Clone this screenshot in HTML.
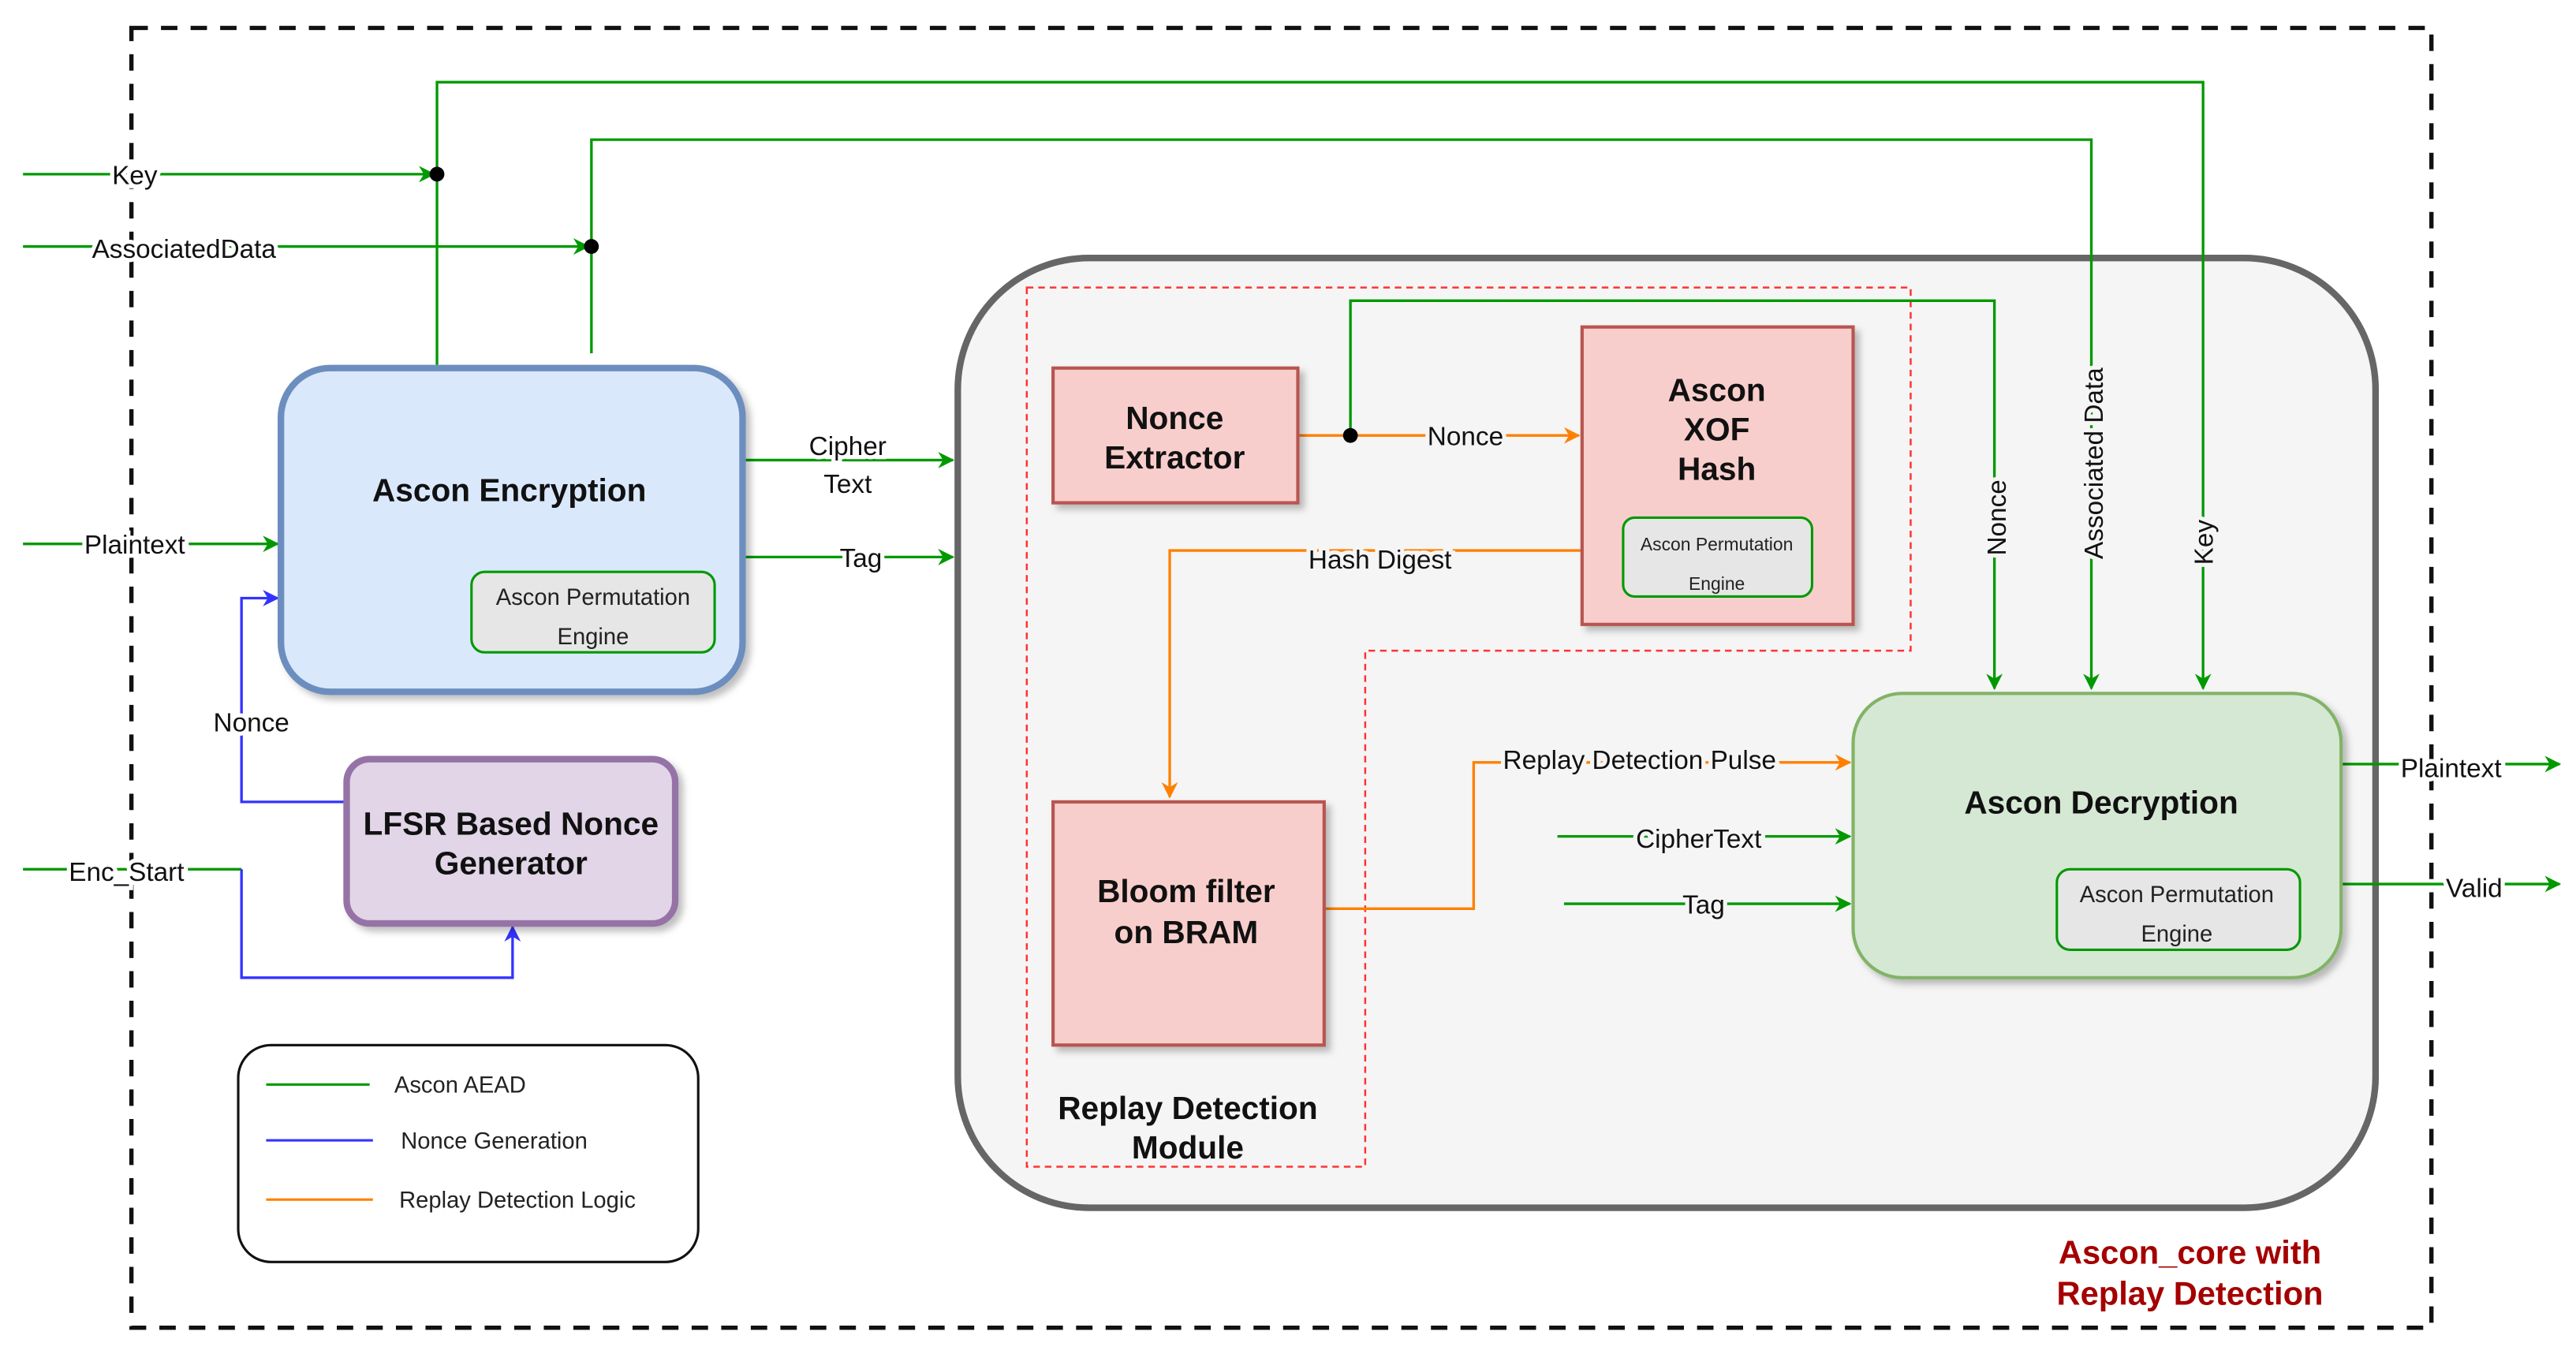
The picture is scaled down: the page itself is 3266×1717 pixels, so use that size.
<!DOCTYPE html>
<html><head><meta charset="utf-8"><style>
html,body{margin:0;padding:0;background:#fff;}
svg{display:block;}
text{font-family:"Liberation Sans","DejaVu Sans",sans-serif;}
.b{font-weight:bold;font-size:19.5px;fill:#111;}
.l{font-size:16px;fill:#111;paint-order:stroke;stroke:#fff;stroke-width:5px;}
.lg{font-size:16px;fill:#111;paint-order:stroke;stroke:#f5f5f5;stroke-width:5px;}
.s{font-size:14px;fill:#222;}
</style></head><body>
<svg width="3266" height="1717" viewBox="0 0 1568 824" preserveAspectRatio="none" xmlns="http://www.w3.org/2000/svg">
<defs>
<marker id="ag" markerWidth="10" markerHeight="10" refX="9" refY="5" orient="auto" markerUnits="userSpaceOnUse"><path d="M0,0 L10,5 L0,10 L3,5 Z" fill="#009900"/></marker>
<marker id="ab" markerWidth="10" markerHeight="10" refX="9" refY="5" orient="auto" markerUnits="userSpaceOnUse"><path d="M0,0 L10,5 L0,10 L3,5 Z" fill="#3333ff"/></marker>
<marker id="ao" markerWidth="10" markerHeight="10" refX="9" refY="5" orient="auto" markerUnits="userSpaceOnUse"><path d="M0,0 L10,5 L0,10 L3,5 Z" fill="#ff8000"/></marker>
<filter id="sh" x="-10%" y="-10%" width="130%" height="130%"><feDropShadow dx="3" dy="3" stdDeviation="2" flood-color="#000" flood-opacity="0.25"/></filter>
</defs>
<rect x="80" y="17" width="1400" height="791" fill="none" stroke="#111" stroke-width="2.6" stroke-dasharray="10 8"/>

<rect x="583" y="157" width="863" height="578" rx="80" fill="#f5f5f5" stroke="#666" stroke-width="4"/>
<path d="M625,175 H1163 V396 H831 V710 H625 Z" fill="none" stroke="#ff3333" stroke-width="1.2" stroke-dasharray="4 3"/>

<g fill="none" stroke="#009900" stroke-width="1.6">
<path d="M14,106 H264" marker-end="url(#ag)"/>
<path d="M14,150 H358" marker-end="url(#ag)"/>
<path d="M266,222 V50 H1341 V419" marker-end="url(#ag)"/>
<path d="M360,215 V85 H1273 V419" marker-end="url(#ag)"/>
<path d="M822,265 V183 H1214 V419" marker-end="url(#ag)"/>
<path d="M14,331 H169" marker-end="url(#ag)"/>
<path d="M452,280 H580" marker-end="url(#ag)"/>
<path d="M452,339 H580" marker-end="url(#ag)"/>
<path d="M948,509 H1126" marker-end="url(#ag)"/>
<path d="M952,550 H1126" marker-end="url(#ag)"/>
<path d="M1425,465 H1558" marker-end="url(#ag)"/>
<path d="M1425,538 H1558" marker-end="url(#ag)"/>
<path d="M14,529 H147"/>
</g>
<circle cx="266" cy="106" r="4.5" fill="#000"/>
<circle cx="360" cy="150" r="4.5" fill="#000"/>

<g fill="none" stroke="#3333ff" stroke-width="1.6">
<path d="M211,488 H147 V364 H169" marker-end="url(#ab)"/>
<path d="M147,529 V595 H312 V564" marker-end="url(#ab)"/>
</g>

<g fill="none" stroke="#ff8000" stroke-width="1.6">
<path d="M790,265 H961" marker-end="url(#ao)"/>
<path d="M963,335 H712 V485" marker-end="url(#ao)"/>
<path d="M806,553 H897 V464 H1126" marker-end="url(#ao)"/>
</g>
<circle cx="822" cy="265" r="4.5" fill="#000"/>

<rect x="171" y="224" width="281" height="197" rx="30" fill="#dae8fc" stroke="#6c8ebf" stroke-width="4" filter="url(#sh)"/>
<text x="310" y="305" text-anchor="middle" class="b">Ascon Encryption</text>
<rect x="287" y="348" width="148" height="49" rx="8" fill="#e6e6e6" stroke="#009900" stroke-width="1.5"/>
<text x="361" y="368" text-anchor="middle" class="s">Ascon Permutation</text>
<text x="361" y="392" text-anchor="middle" class="s">Engine</text>

<rect x="211" y="462" width="200" height="100" rx="14" fill="#e1d5e7" stroke="#9673a6" stroke-width="4" filter="url(#sh)"/>
<text x="311" y="508" text-anchor="middle" class="b">LFSR Based Nonce</text>
<text x="311" y="532" text-anchor="middle" class="b">Generator</text>

<rect x="145" y="636" width="280" height="132" rx="20" fill="#fff" stroke="#111" stroke-width="1.5"/>
<line x1="162" y1="660" x2="225" y2="660" stroke="#009900" stroke-width="1.5"/>
<line x1="162" y1="694" x2="227" y2="694" stroke="#3333ff" stroke-width="1.5"/>
<line x1="162" y1="730" x2="227" y2="730" stroke="#ff8000" stroke-width="1.5"/>
<text x="240" y="665" class="s">Ascon AEAD</text>
<text x="244" y="699" class="s">Nonce Generation</text>
<text x="243" y="735" class="s">Replay Detection Logic</text>

<rect x="641" y="224" width="149" height="82" fill="#f8cecc" stroke="#b85450" stroke-width="2" filter="url(#sh)"/>
<text x="715" y="261" text-anchor="middle" class="b">Nonce</text>
<text x="715" y="285" text-anchor="middle" class="b">Extractor</text>

<rect x="963" y="199" width="165" height="181" fill="#f8cecc" stroke="#b85450" stroke-width="2" filter="url(#sh)"/>
<text x="1045" y="244" text-anchor="middle" class="b">Ascon</text>
<text x="1045" y="268" text-anchor="middle" class="b">XOF</text>
<text x="1045" y="292" text-anchor="middle" class="b">Hash</text>
<rect x="988" y="315" width="115" height="48" rx="7" fill="#e6e6e6" stroke="#009900" stroke-width="1.5"/>
<text x="1045" y="335" text-anchor="middle" font-size="11" fill="#222">Ascon Permutation</text>
<text x="1045" y="359" text-anchor="middle" font-size="11" fill="#222">Engine</text>

<rect x="641" y="488" width="165" height="148" fill="#f8cecc" stroke="#b85450" stroke-width="2" filter="url(#sh)"/>
<text x="722" y="549" text-anchor="middle" class="b">Bloom filter</text>
<text x="722" y="574" text-anchor="middle" class="b">on BRAM</text>

<text x="723" y="681" text-anchor="middle" class="b">Replay Detection</text>
<text x="723" y="705" text-anchor="middle" class="b">Module</text>

<rect x="1128" y="422" width="297" height="173" rx="30" fill="#d5e8d4" stroke="#82b366" stroke-width="2" filter="url(#sh)"/>
<text x="1279" y="495" text-anchor="middle" class="b">Ascon Decryption</text>
<rect x="1252" y="529" width="148" height="49" rx="8" fill="#e6e6e6" stroke="#009900" stroke-width="1.5"/>
<text x="1325" y="549" text-anchor="middle" class="s">Ascon Permutation</text>
<text x="1325" y="573" text-anchor="middle" class="s">Engine</text>

<text x="82" y="112" text-anchor="middle" class="l">Key</text>
<text x="112" y="157" text-anchor="middle" class="l">AssociatedData</text>
<text x="82" y="337" text-anchor="middle" class="l">Plaintext</text>
<text x="77" y="536" text-anchor="middle" class="l">Enc_Start</text>
<text x="153" y="445" text-anchor="middle" class="l">Nonce</text>
<text x="516" y="277" text-anchor="middle" class="l">Cipher</text>
<text x="516" y="300" text-anchor="middle" class="l">Text</text>
<text x="524" y="345" text-anchor="middle" class="l">Tag</text>
<text x="892" y="271" text-anchor="middle" class="lg">Nonce</text>
<text x="840" y="346" text-anchor="middle" class="lg">Hash Digest</text>
<text x="998" y="468" text-anchor="middle" class="lg">Replay Detection Pulse</text>
<text x="1034" y="516" text-anchor="middle" class="lg">CipherText</text>
<text x="1037" y="556" text-anchor="middle" class="lg">Tag</text>
<text x="1492" y="473" text-anchor="middle" class="l">Plaintext</text>
<text x="1506" y="546" text-anchor="middle" class="l">Valid</text>
<text transform="translate(1221,315) rotate(-90)" text-anchor="middle" class="lg">Nonce</text>
<text transform="translate(1280,282) rotate(-90)" text-anchor="middle" class="lg">Associated Data</text>
<text transform="translate(1347,330) rotate(-90)" text-anchor="middle" class="lg">Key</text>

<text x="1333" y="769" text-anchor="middle" font-weight="bold" font-size="20" fill="#a50000">Ascon_core with</text>
<text x="1333" y="794" text-anchor="middle" font-weight="bold" font-size="20" fill="#a50000">Replay Detection</text>
</svg>
</body></html>
